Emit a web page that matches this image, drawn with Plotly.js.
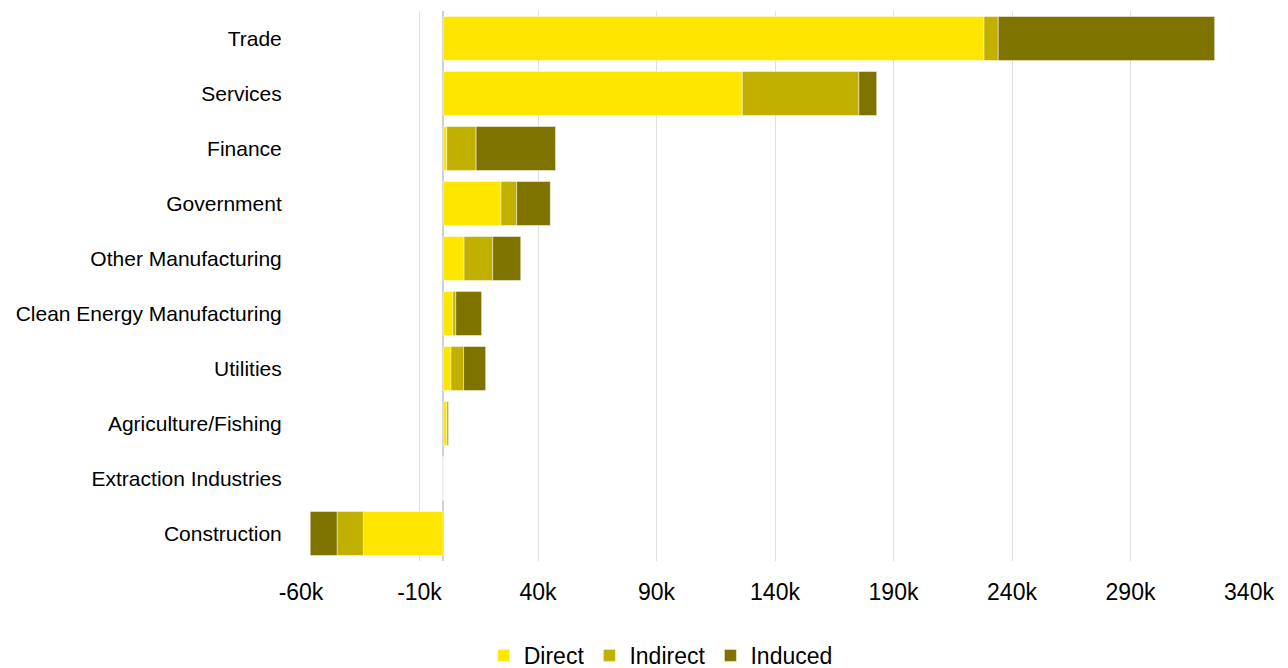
<!DOCTYPE html>
<html>
<head>
<meta charset="utf-8">
<script src="https://cdn.plot.ly/plotly-3.0.1.min.js"></script>
<style>
  html, body { margin: 0; padding: 0; background: #fff; }
  #chart { width: 1288px; height: 668px; }
</style>
</head>
<body>
<div id="chart"></div>
<script>
// Job impacts by sector (thousands of jobs)
const sectors = [
  "Trade", "Services", "Finance", "Government", "Other Manufacturing",
  "Clean Energy Manufacturing", "Utilities", "Agriculture/Fishing",
  "Extraction Industries", "Construction"
];
const direct   = [228.2, 126.2,  1.5, 24.4,  8.8,  4.1, 3.3, 1.5, 0, -33.7];
const indirect = [  6.0,  49.2, 12.4,  6.6, 12.1,  1.2, 5.3, 0.8, 0, -11.1];
const induced  = [ 91.3,   7.5, 33.5, 14.2, 11.8, 10.9, 9.3, 0.1, 0, -11.3];

const seriesNames  = ["Direct", "Indirect", "Induced"];
const seriesColors = ["#FFE600", "#C2B000", "#7F7300"];
const seriesValues = [direct, indirect, induced];

const xTickVals = [-60, -10, 40, 90, 140, 190, 240, 290, 340];

const traces = seriesValues.map((vals, i) => ({
  type: "bar",
  orientation: "h",
  name: seriesNames[i],
  y: sectors,
  x: vals.map(v => v * 1000),
  marker: {
    color: seriesColors[i],
    line: { color: "rgba(255,255,255,0.45)", width: 1 }
  },
  hovertemplate: "%{y}: %{x:,.0f}<extra>" + seriesNames[i] + "</extra>"
}));

const layout = {
  width: 1288,
  height: 668,
  paper_bgcolor: "#ffffff",
  plot_bgcolor: "#ffffff",
  barmode: "relative",
  bargap: 0.2,
  margin: { l: 301, r: 39, t: 11, b: 107, autoexpand: false },
  font: { family: "Liberation Sans, Arial, sans-serif", color: "#000" },
  xaxis: {
    range: [-60000, 340000],
    tickvals: xTickVals.map(v => v * 1000),
    ticktext: xTickVals.map(v => v + "k"),
    tickangle: 0,
    tickfont: { size: 23, color: "#000" },
    showgrid: true,
    gridcolor: "#e0e0e0",
    gridwidth: 1,
    zeroline: true,
    zerolinecolor: "#d0d0d0",
    zerolinewidth: 2,
    showline: false,
    ticks: "outside",
    ticklen: 10,
    tickcolor: "rgba(0,0,0,0)",
    fixedrange: true
  },
  yaxis: {
    type: "category",
    autorange: "reversed",
    tickfont: { size: 21, color: "#000" },
    showgrid: false,
    zeroline: false,
    showline: false,
    ticks: "outside",
    ticklen: 14,
    tickcolor: "rgba(0,0,0,0)",
    fixedrange: true
  },
  showlegend: true,
  legend: {
    orientation: "h",
    xref: "container",
    yref: "container",
    x: 0.513,
    xanchor: "center",
    y: 0.051,
    yanchor: "top",
    font: { size: 23, color: "#000" },
    itemwidth: 30,
    tracegroupgap: 0
  }
};

Plotly.newPlot("chart", traces, layout, { displayModeBar: false, staticPlot: true });
</script>
</body>
</html>
